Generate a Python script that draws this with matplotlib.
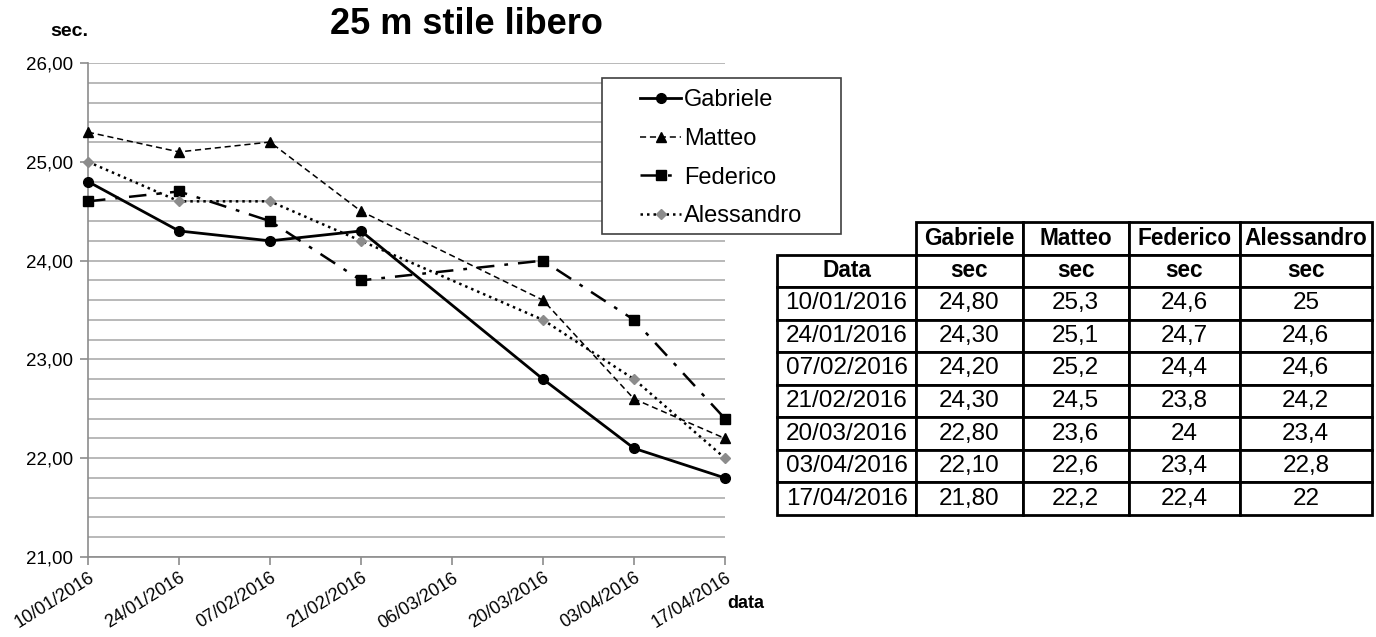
import datetime as dt
import matplotlib
matplotlib.use("Agg")
import matplotlib.pyplot as plt
import matplotlib.dates as mdates
from matplotlib.patches import Rectangle
from matplotlib.ticker import FuncFormatter, MultipleLocator

plt.rcParams['font.family'] = ['Liberation Sans', 'DejaVu Sans']

# data
dates = ["10/01/2016", "24/01/2016", "07/02/2016", "21/02/2016",
         "20/03/2016", "03/04/2016", "17/04/2016"]
gabriele = [24.80, 24.30, 24.20, 24.30, 22.80, 22.10, 21.80]
matteo = [25.3, 25.1, 25.2, 24.5, 23.6, 22.6, 22.2]
federico = [24.6, 24.7, 24.4, 23.8, 24.0, 23.4, 22.4]
alessandro = [25.0, 24.6, 24.6, 24.2, 23.4, 22.8, 22.0]
names = ["Gabriele", "Matteo", "Federico", "Alessandro"]

x = [dt.datetime.strptime(d, "%d/%m/%Y") for d in dates]

W, H = 1376, 637
fig = plt.figure(figsize=(W / 100, H / 100), dpi=100)

# ---- line chart ----
ax = fig.add_axes([88 / W, 1 - 557 / H, (725 - 88) / W, (557 - 63) / H])

ax.plot(x, gabriele, color='black', lw=2.0, ls='-', marker='o', ms=7,
        label=names[0], clip_on=False, zorder=5)
ax.plot(x, matteo, color='black', lw=1.1, ls=(0, (4, 2.5)), marker='^', ms=7.5,
        label=names[1], clip_on=False, zorder=5)
ax.plot(x, federico, color='black', lw=1.8, ls=(0, (7, 4, 1.5, 4)), marker='s', ms=7.5,
        label=names[2], clip_on=False, zorder=5)
ax.plot(x, alessandro, color='black', lw=1.8, ls=(0, (1, 1.6)), marker='D', ms=5.5,
        mfc='#8c8c8c', mec='#8c8c8c', label=names[3], clip_on=False, zorder=5)

ax.set_ylim(21, 26)
ax.set_xlim(x[0], x[-1])
ax.yaxis.set_major_locator(MultipleLocator(1))
ax.yaxis.set_minor_locator(MultipleLocator(0.2))
ax.yaxis.set_major_formatter(FuncFormatter(lambda v, p: f"{v:.2f}".replace('.', ',')))
ax.grid(axis='y', which='both', color='#a6a6a6', lw=1.1)
ax.set_axisbelow(True)

ax.set_xticks(mdates.drange(x[0], x[-1] + dt.timedelta(days=1), dt.timedelta(days=14)))
ax.xaxis.set_major_formatter(mdates.DateFormatter('%d/%m/%Y'))

for s in ['top', 'right']:
    ax.spines[s].set_visible(False)
for s in ['left', 'bottom']:
    ax.spines[s].set_color('#8c8c8c')
    ax.spines[s].set_linewidth(1.2)
ax.tick_params(axis='y', which='major', length=6, color='#8c8c8c', width=1.2,
               labelsize=13.5, pad=5)
ax.tick_params(axis='y', which='minor', length=0)
ax.tick_params(axis='x', length=6, color='#8c8c8c', width=1.2, labelsize=13, pad=3)
for lbl in ax.get_xticklabels():
    lbl.set_rotation(32)
    lbl.set_ha('right')
    lbl.set_rotation_mode('anchor')

fig.text(466 / W, 1 - 25 / H, "25 m stile libero", ha='center', va='center',
         fontsize=26, fontweight='bold')
fig.text(50 / W, 1 - 32 / H, "sec.", ha='left', va='center', fontsize=14,
         fontweight='bold')
fig.text(727 / W, 1 - 604 / H, "data", ha='left', va='center', fontsize=13,
         fontweight='bold')

# legend: frame drawn separately so it can be wider than the entries
leg = fig.legend(loc='upper left', bbox_to_anchor=(633 / W, 1 - 82 / H),
                 fontsize=17, frameon=False, handlelength=1.75, handletextpad=0.1,
                 labelspacing=0.71, borderpad=0.3, borderaxespad=0)
fig.patches.append(Rectangle((602 / W, 1 - 234 / H), (841 - 602) / W, (234 - 78) / H,
                             transform=fig.transFigure, fill=True, facecolor='white',
                             edgecolor='#404040', lw=1.2, zorder=4))
leg.set_zorder(6)

# ---- table ----
def fmt2(v):
    return f"{v:.2f}".replace('.', ',')

def fmtg(v):
    return f"{v:g}".replace('.', ',')

rows = [["", names[0], names[1], names[2], names[3]],
        ["Data", "sec", "sec", "sec", "sec"]]
for i, d in enumerate(dates):
    rows.append([d, fmt2(gabriele[i]), fmtg(matteo[i]), fmtg(federico[i]),
                 fmtg(alessandro[i])])

tax = fig.add_axes([777 / W, 1 - 515 / H, (1372 - 777) / W, (515 - 222) / H])
tax.axis('off')
col_w = [139, 106.5, 106.5, 110.6, 132.4]
tot = sum(col_w)
tbl = tax.table(cellText=rows, colWidths=[c / tot for c in col_w],
                cellLoc='center', bbox=[0, 0, 1, 1])
tbl.auto_set_font_size(False)
for (r, c), cell in tbl.get_celld().items():
    cell.set_linewidth(2)
    cell.set_edgecolor('black')
    if r < 2:
        cell.get_text().set_fontsize(16.3)
        cell.get_text().set_fontweight('bold')
    else:
        cell.get_text().set_fontsize(17.5)
    if r == 0 and c == 0:
        cell.visible_edges = ''

fig.savefig("out.png", dpi=100)
